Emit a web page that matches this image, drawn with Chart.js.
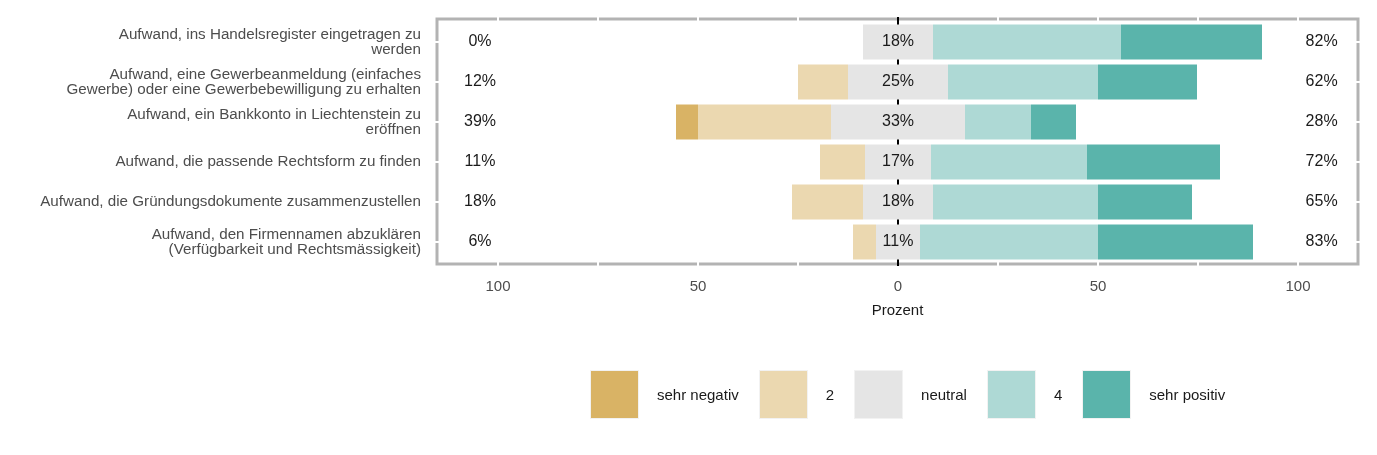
<!DOCTYPE html>
<html>
<head>
<meta charset="utf-8">
<script src="https://cdn.jsdelivr.net/npm/chart.js@4/dist/chart.umd.min.js"></script>
<style>
  html, body { margin: 0; padding: 0; background: #fff; }
  #wrap { position: relative; width: 1377px; height: 455px; }
  #legend { position: absolute; left: 590px; top: 370px; display: flex; align-items: center;
            font-family: "Liberation Sans", Arial, sans-serif; font-size: 15px; color: #1a1a1a; }
  .item { display: flex; align-items: center; margin-right: 20px; }
  .box { width: 47px; height: 47px; border: 1px solid #f2f2f2; margin-right: 18px; }
</style>
</head>
<body>
<div id="wrap">
  <canvas id="myChart" width="1377" height="455"></canvas>
  <div id="legend"></div>
</div>
<script>
const categories = [
  ['Aufwand, ins Handelsregister eingetragen zu', 'werden'],
  ['Aufwand, eine Gewerbeanmeldung (einfaches', 'Gewerbe) oder eine Gewerbebewilligung zu erhalten'],
  ['Aufwand, ein Bankkonto in Liechtenstein zu', 'eröffnen'],
  'Aufwand, die passende Rechtsform zu finden',
  'Aufwand, die Gründungsdokumente zusammenzustellen',
  ['Aufwand, den Firmennamen abzuklären', '(Verfügbarkeit und Rechtsmässigkeit)']
];
const sehrNegativ = [0, 0, 5.5, 0, 0, 0];
const zwei = [0, 12.5, 33.25, 11.25, 17.75, 5.75];
const neutral = [17.5, 25, 33.5, 16.5, 17.5, 11];
const vier = [47, 37.5, 16.5, 39, 41.25, 44.5];
const sehrPositiv = [35.25, 24.75, 11.25, 33.25, 23.5, 38.75];

const leftLabels = ['0%', '12%', '39%', '11%', '18%', '6%'];
const centerLabels = ['18%', '25%', '33%', '17%', '18%', '11%'];
const rightLabels = ['82%', '62%', '28%', '72%', '65%', '83%'];

const legendNames = ['sehr negativ', '2', 'neutral', '4', 'sehr positiv'];
const colors = ['#d9b365', '#ebd8b0', '#e5e5e5', '#aed9d5', '#5ab4ab'];

const FONT = '"Liberation Sans", Arial, sans-serif';

// panel: grey border, white grid lines, black zero line (behind bars)
const panel = {
  id: 'panel',
  beforeDatasetsDraw(chart) {
    const {ctx, chartArea: a, scales: {x, y}} = chart;
    ctx.save();
    ctx.strokeStyle = '#b3b3b3';
    ctx.lineWidth = 3;
    ctx.strokeRect(a.left, a.top - 3, a.right - a.left, a.bottom - a.top + 5);
    ctx.strokeStyle = '#ffffff';
    ctx.lineWidth = 2;
    [-100, -75, -50, -25, 25, 50, 75, 100].forEach(v => {
      const px = x.getPixelForValue(v);
      ctx.beginPath(); ctx.moveTo(px, a.top - 6); ctx.lineTo(px, a.bottom + 5); ctx.stroke();
    });
    categories.forEach((c, i) => {
      const py = y.getPixelForValue(i);
      ctx.beginPath(); ctx.moveTo(a.left - 3, py); ctx.lineTo(a.right + 3, py); ctx.stroke();
    });
    const zx = x.getPixelForValue(0);
    ctx.strokeStyle = '#000000';
    ctx.lineWidth = 2;
    ctx.beginPath(); ctx.moveTo(zx, a.top - 5); ctx.lineTo(zx, a.bottom + 4); ctx.stroke();
    ctx.restore();
  }
};

const percentText = {
  id: 'percentText',
  afterDatasetsDraw(chart) {
    const {ctx, scales: {x, y}} = chart;
    ctx.save();
    ctx.font = '16px ' + FONT;
    ctx.fillStyle = '#1a1a1a';
    ctx.textAlign = 'center';
    ctx.textBaseline = 'middle';
    categories.forEach((c, i) => {
      const py = y.getPixelForValue(i);
      ctx.fillText(leftLabels[i], x.getPixelForValue(-104.5), py);
      ctx.fillText(centerLabels[i], x.getPixelForValue(0), py);
      ctx.fillText(rightLabels[i], x.getPixelForValue(105.9), py);
    });
    ctx.restore();
  }
};

const neg = arr => arr.map(v => -v);
const half = arr => arr.map(v => v / 2);

const ctx = document.getElementById('myChart');
new Chart(ctx, {
  type: 'bar',
  data: {
    labels: categories,
    datasets: [
      {label: 'neutral', data: neg(half(neutral)), backgroundColor: colors[2]},
      {label: '2', data: neg(zwei), backgroundColor: colors[1]},
      {label: 'sehr negativ', data: neg(sehrNegativ), backgroundColor: colors[0]},
      {label: 'neutral', data: half(neutral), backgroundColor: colors[2]},
      {label: '4', data: vier, backgroundColor: colors[3]},
      {label: 'sehr positiv', data: sehrPositiv, backgroundColor: colors[4]}
    ]
  },
  options: {
    indexAxis: 'y',
    responsive: false,
    animation: false,
    layout: {padding: {top: 22, right: 19, left: 0, bottom: 135}},
    datasets: {bar: {barPercentage: 0.875, categoryPercentage: 1, borderWidth: 0, stack: 's'}},
    scales: {
      x: {
        stacked: true,
        min: -115.25,
        max: 115,
        grid: {display: false, drawTicks: false},
        border: {display: false},
        afterBuildTicks: s => { s.ticks = [-100, -50, 0, 50, 100].map(v => ({value: v})); },
        afterFit: s => { s.height = 58; s.paddingLeft = 0; s.paddingRight = 0; },
        ticks: {
          padding: 16,
          color: '#4d4d4d',
          font: {family: FONT, size: 15},
          callback: v => Math.abs(v)
        },
        title: {display: true, text: 'Prozent', color: '#1a1a1a', padding: 0, font: {family: FONT, size: 15}}
      },
      y: {
        stacked: true,
        grid: {display: false, drawTicks: false},
        border: {display: false},
        afterFit: s => { s.width = 437; s.paddingTop = 0; s.paddingBottom = 0; },
        ticks: {
          padding: 16,
          color: '#4d4d4d',
          font: {family: FONT, size: 15.2, lineHeight: 1.0}
        }
      }
    },
    plugins: {
      legend: {display: false},
      tooltip: {enabled: false}
    }
  },
  plugins: [panel, percentText]
});

const legend = document.getElementById('legend');
legendNames.forEach((name, i) => {
  const item = document.createElement('div');
  item.className = 'item';
  item.innerHTML = '<div class="box" style="background:' + colors[i] + '"></div><span>' + name + '</span>';
  legend.appendChild(item);
});
</script>
</body>
</html>
